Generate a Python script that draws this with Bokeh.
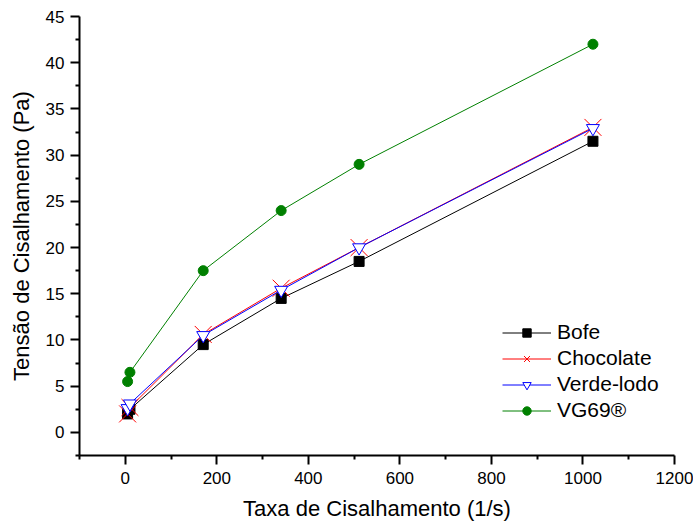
from bokeh.plotting import figure
from bokeh.models import (Range1d, FixedTicker, Legend, LegendItem, ColumnDataSource)
from bokeh.embed import file_html
from bokeh.resources import INLINE

# ---- data ----
shear_rate = [5.1, 10.2, 170.3, 340.6, 510.9, 1021.8]
bofe = [2.0, 2.5, 9.5, 14.5, 18.5, 31.5]
chocolate = [2.0, 2.7, 10.6, 15.6, 20.0, 33.0]
verde_lodo = [2.6, 3.1, 10.5, 15.4, 20.0, 32.9]
vg69 = [5.5, 6.5, 17.5, 24.0, 29.0, 42.0]

series_names = ["Bofe", "Chocolate", "Verde-lodo", "VG69\u00ae"]

x_major = [0, 200, 400, 600, 800, 1000, 1200]
x_minor = [-100, 100, 300, 500, 700, 900, 1100]
y_major = [0, 5, 10, 15, 20, 25, 30, 35, 40, 45]
y_minor = [-2.5, 2.5, 7.5, 12.5, 17.5, 22.5, 27.5, 32.5, 37.5, 42.5]

FONT = "Liberation Sans"

p = figure(width=693, height=525, output_backend="svg", toolbar_location=None,
           x_range=Range1d(-100, 1200), y_range=Range1d(-2.5, 45),
           min_border_left=79, min_border_right=19, min_border_top=16,
           min_border_bottom=70)
p.outline_line_color = None
p.xgrid.visible = False
p.ygrid.visible = False
p.background_fill_color = "white"

src = ColumnDataSource(dict(x=shear_rate, bofe=bofe, choc=chocolate,
                            verde=verde_lodo, vg=vg69))

l1 = p.line("x", "bofe", source=src, line_color="black", line_width=1)
m1 = p.scatter("x", "bofe", source=src, marker="square", size=10,
               fill_color="black", line_color="black")
l2 = p.line("x", "choc", source=src, line_color="#ff0000", line_width=1)
m2 = p.scatter("x", "choc", source=src, marker="x", size=24,
               line_color="#ff0000", line_width=1)
l3 = p.line("x", "verde", source=src, line_color="#0000ff", line_width=1)
m3 = p.scatter("x", "verde", source=src, marker="inverted_triangle", size=13,
               fill_color="white", line_color="#0000ff", line_width=1)
l4 = p.line("x", "vg", source=src, line_color="#008000", line_width=1)
m4 = p.scatter("x", "vg", source=src, marker="circle", size=10,
               fill_color="#008000", line_color="#008000")

for ax in (p.xaxis[0], p.yaxis[0]):
    ax.axis_line_width = 2
    ax.major_tick_line_width = 2
    ax.minor_tick_line_width = 2
    ax.major_tick_in = 0
    ax.major_tick_out = 9
    ax.minor_tick_in = 0
    ax.minor_tick_out = 4
    ax.major_label_text_font = FONT
    ax.major_label_text_font_size = "17px"
    ax.major_label_text_color = "black"
    ax.axis_label_text_font = FONT
    ax.axis_label_text_font_size = "22px"
    ax.axis_label_text_font_style = "normal"
    ax.axis_label_text_color = "black"

p.xaxis.ticker = FixedTicker(ticks=x_major, minor_ticks=x_minor)
p.yaxis.ticker = FixedTicker(ticks=y_major, minor_ticks=y_minor)
p.xaxis.axis_label = "Taxa de Cisalhamento (1/s)"
p.yaxis.axis_label = "Tens\u00e3o de Cisalhamento (Pa)"
p.xaxis.major_label_standoff = 7
p.xaxis.axis_label_standoff = 9
p.yaxis.major_label_standoff = 6
p.yaxis.axis_label_standoff = 9

legend = Legend(items=[
    LegendItem(label=series_names[0], renderers=[l1, m1]),
    LegendItem(label=series_names[1], renderers=[l2, m2]),
    LegendItem(label=series_names[2], renderers=[l3, m3]),
    LegendItem(label=series_names[3], renderers=[l4, m4]),
], location=(423, 33))
legend.border_line_color = None
legend.background_fill_alpha = 0
legend.padding = 0
legend.margin = 0
legend.spacing = 2
legend.glyph_width = 49
legend.glyph_height = 21
legend.label_height = 20
legend.label_standoff = 6
legend.label_text_font = FONT
legend.label_text_font_size = "21px"
legend.label_text_color = "black"
p.add_layout(legend, "center")

open("out.html", "w").write(file_html(p, INLINE))
